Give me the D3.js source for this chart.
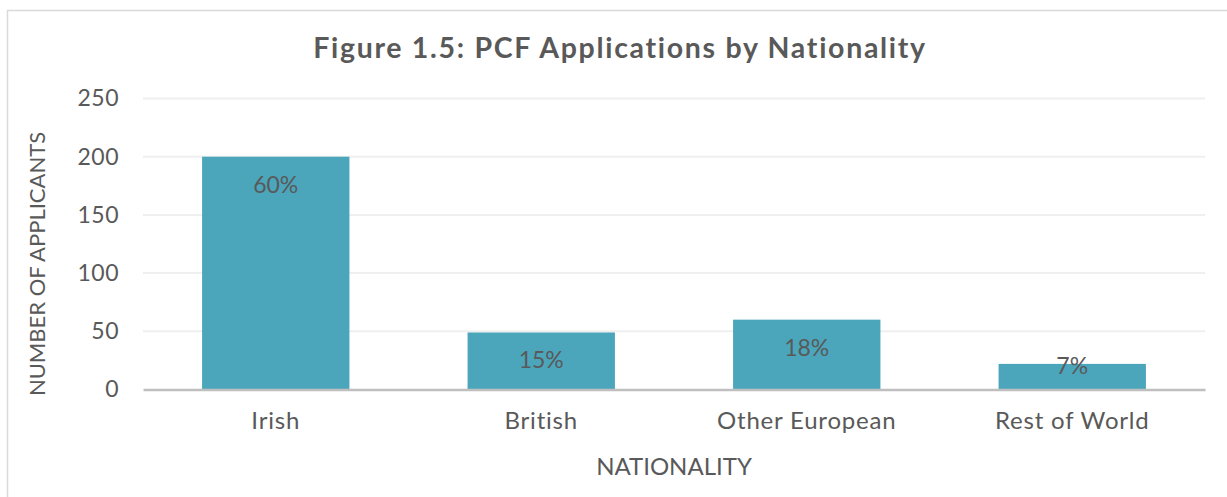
<!DOCTYPE html>
<html>
<head>
<meta charset="UTF-8">
<title>PCF Applications by Nationality</title>
<script src="https://cdn.jsdelivr.net/npm/d3@7"></script>
<style>
	body { margin: 0; background: #fff; }
	text { font-family: Lato, "Open Sans", sans-serif; fill: #595959; }
</style>
</head>
<body>
<svg id="chart" width="1227" height="497"></svg>
<script>
	// chart data
	var nationalities = ["Irish", "British", "Other European", "Rest of World"];
	var applicants = [200, 49, 60, 22];
	var shares = ["60%", "15%", "18%", "7%"];
	var yTicks = [0, 50, 100, 150, 200, 250];

	var svg = d3.select("#chart");
	var plotLeft = 143, plotRight = 1205, plotTop = 98.5, plotBottom = 389.5;

	// outer frame
	svg.append("rect").attr("x", 7.5).attr("y", 10.5).attr("width", 1240).attr("height", 500)
		.attr("fill", "none").attr("stroke", "#d9d9d9").attr("stroke-width", 1.5);

	var x = d3.scaleBand().domain(nationalities).range([plotLeft, plotRight]).paddingInner(0.445).paddingOuter(0.2225);
	var y = d3.scaleLinear().domain([0, 250]).range([plotBottom, plotTop]);

	// gridlines
	svg.append("g").selectAll("line").data(yTicks.slice(1)).enter().append("line")
		.attr("x1", plotLeft).attr("x2", plotRight)
		.attr("y1", function (d) { return y(d); }).attr("y2", function (d) { return y(d); })
		.attr("stroke", "#efefef").attr("stroke-width", 2);

	// y axis labels
	var yAxis = d3.axisLeft(y).tickValues(yTicks).tickSize(0).tickPadding(24);
	var gy = svg.append("g").attr("transform", "translate(" + plotLeft + ",0)").call(yAxis);
	gy.select(".domain").remove();
	gy.selectAll("text").style("font-size", "23px").attr("fill", "#595959").style("font-family", "Lato")
		.style("letter-spacing", "0.5px");

	// bars
	svg.append("g").selectAll("rect").data(applicants).enter().append("rect")
		.attr("x", function (d, i) { return x(nationalities[i]); })
		.attr("y", function (d) { return y(d); })
		.attr("width", x.bandwidth())
		.attr("height", function (d) { return y(0) - y(d); })
		.attr("fill", "#4ba6bc");

	// data labels (inside end, kept above the axis for short bars)
	svg.append("g").selectAll("text").data(shares).enter().append("text")
		.attr("x", function (d, i) { return x(nationalities[i]) + x.bandwidth() / 2; })
		.attr("y", function (d, i) { return Math.min(y(applicants[i]) + 36, y(0) - 15.5); })
		.attr("text-anchor", "middle")
		.style("font-size", "23px").attr("fill", "#404040")
		.text(function (d) { return d; });

	// x axis
	var xAxis = d3.axisBottom(x).tickSize(0).tickPadding(22);
	var gx = svg.append("g").attr("transform", "translate(0," + plotBottom + ")").call(xAxis);
	gx.select(".domain").attr("stroke", "#bfbfbf").attr("stroke-width", 2.5);
	gx.selectAll("text").style("font-size", "24px").attr("fill", "#595959").style("font-family", "Lato")
		.style("letter-spacing", "0.8px");

	// titles
	svg.append("text").attr("x", 620).attr("y", 58).attr("text-anchor", "middle")
		.style("font-size", "28.5px").style("font-weight", "bold").style("letter-spacing", "1.7px")
		.text("Figure 1.5: PCF Applications by Nationality");

	svg.append("text").attr("x", 674).attr("y", 475).attr("text-anchor", "middle")
		.style("font-size", "24px")
		.text("NATIONALITY");

	svg.append("text").attr("transform", "translate(45,264) rotate(-90)").attr("text-anchor", "middle")
		.style("font-size", "22px")
		.text("NUMBER OF APPLICANTS");
</script>
</body>
</html>
